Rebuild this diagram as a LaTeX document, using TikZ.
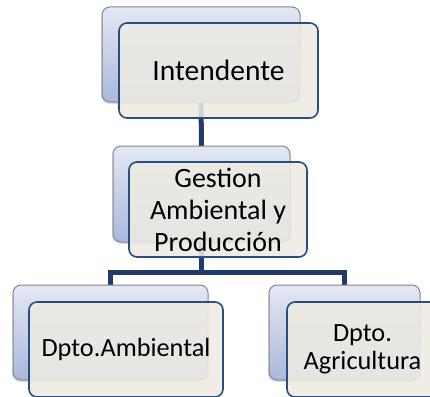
\documentclass[tikz,border=0pt]{standalone}
\usepackage{fontspec}
\setmainfont{Carlito}
\usetikzlibrary{backgrounds,shadows}
\definecolor{backtop}{HTML}{E4E8F3}
\definecolor{backbot}{HTML}{A9B8DC}
\definecolor{backline}{HTML}{858585}
\definecolor{frontfill}{HTML}{EDEBE3}
\definecolor{frontline}{HTML}{2A4D80}
\definecolor{conn}{HTML}{1F3A6B}
\tikzset{
  backbox/.style={rectangle, rounded corners=8pt, draw=backline, line width=1pt,
    top color=backtop, bottom color=backbot, inner sep=0pt,
    drop shadow={shadow xshift=-1pt, shadow yshift=-2pt, opacity=0.25}},
  frontbox/.style={rectangle, rounded corners=8pt, draw=frontline, line width=1.6pt,
    fill=frontfill, fill opacity=0.88, text opacity=1, inner sep=0pt, align=center,
    text=black},
  toptxt/.style={font=\fontsize{29.5}{32}\selectfont},
  bigtxt/.style={font=\fontsize{28}{32}\selectfont},
  smalltxt/.style={font=\fontsize{26.3}{28.5}\selectfont},
  connector/.style={draw=conn, line width=5pt}
}
\begin{document}
\begin{tikzpicture}[x=1pt,y=-1pt]
\useasboundingbox (0,0) rectangle (430,396);
% back boxes
\node[backbox, minimum width=198pt, minimum height=95pt] (topb) at (201,54.5) {};
\node[backbox, minimum width=177pt, minimum height=96pt] (midb) at (201.5,194) {};
\node[backbox, minimum width=195pt, minimum height=95pt] (leftb) at (110.5,332.5) {};
\node[backbox, minimum width=151pt, minimum height=95pt] (rightb) at (344.5,332.5) {};
\coordinate (bus) at (0,272);
\begin{scope}[on background layer]
\fill[white] (0,0) rectangle (430,396);
\draw[connector] (topb.center) -- (midb.center);
\draw[connector] (midb.center) -- (midb.center |- bus) -| (leftb.center);
\draw[connector] (midb.center |- bus) -| (rightb.center);
\end{scope}
% front boxes
\node[frontbox, toptxt, minimum width=199pt, minimum height=95pt] (topf) at (218.5,70.5) {Intendente};
\node[frontbox, bigtxt, minimum width=178pt, minimum height=95pt] (midf) at (218,209.5) {Gestion\\Ambiental y\\Producción};
\node[frontbox, smalltxt, minimum width=194pt, minimum height=95pt] (leftf) at (126,349.5) {Dpto.Ambiental};
\node[frontbox, smalltxt, minimum width=151pt, minimum height=95pt] (rightf) at (362.5,349.5) {Dpto.\\Agricultura};
\end{tikzpicture}
\end{document}
